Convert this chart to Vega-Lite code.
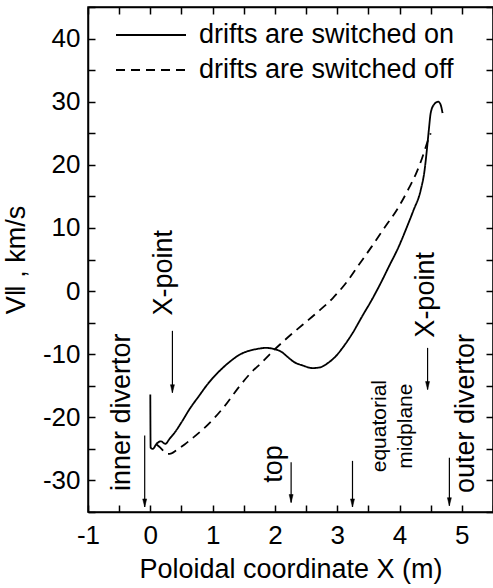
{
  "$schema": "https://vega.github.io/schema/vega-lite/v6.json",
  "width": 405,
  "height": 505,
  "autosize": {"type": "none"},
  "padding": {"left": 88, "top": 7, "right": 0, "bottom": 76},
  "background": "white",
  "config": {
    "font": "Liberation Sans",
    "view": {"stroke": "black", "strokeWidth": 1.5},
    "axis": {
      "domainColor": "black",
      "domainWidth": 1.5,
      "tickColor": "black",
      "tickWidth": 1.5,
      "tickSize": -7,
      "grid": false,
      "labelFont": "Liberation Sans",
      "labelFontSize": 26,
      "labelColor": "black",
      "titleFont": "Liberation Sans",
      "titleFontSize": 27,
      "titleFontWeight": "normal",
      "titleColor": "black"
    },
    "legend": {
      "orient": "none",
      "legendX": 27,
      "legendY": 10.5,
      "padding": 0,
      "symbolType": "stroke",
      "symbolSize": 4900,
      "symbolStrokeWidth": 1.8,
      "symbolStrokeColor": "black",
      "labelFont": "Liberation Sans",
      "labelFontSize": 27,
      "labelColor": "black",
      "labelOffset": 12,
      "labelLimit": 400,
      "clipHeight": 35,
      "rowPadding": 0
    }
  },
  "datasets": {
    "curves": [
      {"series": "drifts are switched on", "i": 0, "x": 0.0, "v": -16.4},
      {"series": "drifts are switched on", "i": 1, "x": 0.005, "v": -24.8},
      {"series": "drifts are switched on", "i": 2, "x": 0.04, "v": -25.0},
      {"series": "drifts are switched on", "i": 3, "x": 0.10, "v": -24.2},
      {"series": "drifts are switched on", "i": 4, "x": 0.17, "v": -23.8},
      {"series": "drifts are switched on", "i": 5, "x": 0.24, "v": -24.2},
      {"series": "drifts are switched on", "i": 6, "x": 0.31, "v": -23.4},
      {"series": "drifts are switched on", "i": 7, "x": 0.40, "v": -22.3},
      {"series": "drifts are switched on", "i": 8, "x": 0.50, "v": -20.8},
      {"series": "drifts are switched on", "i": 9, "x": 0.63, "v": -18.7},
      {"series": "drifts are switched on", "i": 10, "x": 0.79, "v": -16.5},
      {"series": "drifts are switched on", "i": 11, "x": 0.90, "v": -15.0},
      {"series": "drifts are switched on", "i": 12, "x": 1.00, "v": -13.8},
      {"series": "drifts are switched on", "i": 13, "x": 1.17, "v": -12.1},
      {"series": "drifts are switched on", "i": 14, "x": 1.30, "v": -11.0},
      {"series": "drifts are switched on", "i": 15, "x": 1.43, "v": -10.1},
      {"series": "drifts are switched on", "i": 16, "x": 1.57, "v": -9.5},
      {"series": "drifts are switched on", "i": 17, "x": 1.70, "v": -9.2},
      {"series": "drifts are switched on", "i": 18, "x": 1.86, "v": -9.0},
      {"series": "drifts are switched on", "i": 19, "x": 1.99, "v": -9.2},
      {"series": "drifts are switched on", "i": 20, "x": 2.10, "v": -9.6},
      {"series": "drifts are switched on", "i": 21, "x": 2.20, "v": -10.4},
      {"series": "drifts are switched on", "i": 22, "x": 2.30, "v": -11.2},
      {"series": "drifts are switched on", "i": 23, "x": 2.45, "v": -11.8},
      {"series": "drifts are switched on", "i": 24, "x": 2.60, "v": -12.2},
      {"series": "drifts are switched on", "i": 25, "x": 2.72, "v": -12.1},
      {"series": "drifts are switched on", "i": 26, "x": 2.85, "v": -11.4},
      {"series": "drifts are switched on", "i": 27, "x": 2.95, "v": -10.6},
      {"series": "drifts are switched on", "i": 28, "x": 3.10, "v": -8.8},
      {"series": "drifts are switched on", "i": 29, "x": 3.25, "v": -6.6},
      {"series": "drifts are switched on", "i": 30, "x": 3.40, "v": -4.0},
      {"series": "drifts are switched on", "i": 31, "x": 3.56, "v": -1.3},
      {"series": "drifts are switched on", "i": 32, "x": 3.70, "v": 1.3},
      {"series": "drifts are switched on", "i": 33, "x": 3.83, "v": 3.9},
      {"series": "drifts are switched on", "i": 34, "x": 3.99, "v": 7.1},
      {"series": "drifts are switched on", "i": 35, "x": 4.10, "v": 9.7},
      {"series": "drifts are switched on", "i": 36, "x": 4.22, "v": 12.7},
      {"series": "drifts are switched on", "i": 37, "x": 4.34, "v": 16.0},
      {"series": "drifts are switched on", "i": 38, "x": 4.40, "v": 19.0},
      {"series": "drifts are switched on", "i": 39, "x": 4.44, "v": 22.5},
      {"series": "drifts are switched on", "i": 40, "x": 4.47, "v": 25.5},
      {"series": "drifts are switched on", "i": 41, "x": 4.50, "v": 28.2},
      {"series": "drifts are switched on", "i": 42, "x": 4.55, "v": 29.5},
      {"series": "drifts are switched on", "i": 43, "x": 4.62, "v": 30.0},
      {"series": "drifts are switched on", "i": 44, "x": 4.66, "v": 29.5},
      {"series": "drifts are switched on", "i": 45, "x": 4.69, "v": 28.2},
      {"series": "drifts are switched off", "i": 0, "x": 0.10, "v": -24.3},
      {"series": "drifts are switched off", "i": 1, "x": 0.16, "v": -24.8},
      {"series": "drifts are switched off", "i": 2, "x": 0.22, "v": -25.4},
      {"series": "drifts are switched off", "i": 3, "x": 0.28, "v": -25.8},
      {"series": "drifts are switched off", "i": 4, "x": 0.34, "v": -25.7},
      {"series": "drifts are switched off", "i": 5, "x": 0.42, "v": -25.2},
      {"series": "drifts are switched off", "i": 6, "x": 0.55, "v": -24.3},
      {"series": "drifts are switched off", "i": 7, "x": 0.69, "v": -23.2},
      {"series": "drifts are switched off", "i": 8, "x": 0.90, "v": -21.4},
      {"series": "drifts are switched off", "i": 9, "x": 1.17, "v": -18.5},
      {"series": "drifts are switched off", "i": 10, "x": 1.43, "v": -15.1},
      {"series": "drifts are switched off", "i": 11, "x": 1.60, "v": -13.1},
      {"series": "drifts are switched off", "i": 12, "x": 1.80, "v": -11.2},
      {"series": "drifts are switched off", "i": 13, "x": 1.99, "v": -9.3},
      {"series": "drifts are switched off", "i": 14, "x": 2.20, "v": -7.4},
      {"series": "drifts are switched off", "i": 15, "x": 2.45, "v": -5.3},
      {"series": "drifts are switched off", "i": 16, "x": 2.70, "v": -3.2},
      {"series": "drifts are switched off", "i": 17, "x": 2.93, "v": -1.1},
      {"series": "drifts are switched off", "i": 18, "x": 3.15, "v": 1.4},
      {"series": "drifts are switched off", "i": 19, "x": 3.35, "v": 4.2},
      {"series": "drifts are switched off", "i": 20, "x": 3.55, "v": 7.0},
      {"series": "drifts are switched off", "i": 21, "x": 3.75, "v": 9.9},
      {"series": "drifts are switched off", "i": 22, "x": 3.99, "v": 13.4},
      {"series": "drifts are switched off", "i": 23, "x": 4.15, "v": 16.3},
      {"series": "drifts are switched off", "i": 24, "x": 4.26, "v": 18.5},
      {"series": "drifts are switched off", "i": 25, "x": 4.36, "v": 21.0},
      {"series": "drifts are switched off", "i": 26, "x": 4.45, "v": 23.7},
      {"series": "drifts are switched off", "i": 27, "x": 4.50, "v": 25.0}
    ],
    "arrows": [
      {"label": "inner divertor", "x": -0.09, "y1": -22.9, "y2": -34.2},
      {"label": "X-point (inner)", "x": 0.355, "y1": -6.3, "y2": -16.1},
      {"label": "top", "x": 2.26, "y1": -27.1, "y2": -33.5},
      {"label": "equatorial midplane", "x": 3.245, "y1": -26.9, "y2": -34.2},
      {"label": "outer divertor", "x": 4.80, "y1": -26.4, "y2": -34.0},
      {"label": "X-point (outer)", "x": 4.45, "y1": -9.0, "y2": -15.6}
    ],
    "labels": [
      {"text": "inner divertor", "x": -0.46, "y": -19.2},
      {"text": "X-point", "x": 0.22, "y": 2.9},
      {"text": "top", "x": 1.99, "y": -27.4},
      {"text": "outer divertor", "x": 5.06, "y": -19.4},
      {"text": "X-point", "x": 4.42, "y": -0.6}
    ],
    "smalllabels": [
      {"text": ["equatorial", "midplane"], "x": 3.68, "y": -21.4}
    ]
  },
  "resolve": {"axis": {"x": "independent", "y": "independent"}},
  "layer": [
    {
      "data": {"name": "curves"},
      "mark": {"type": "line", "strokeWidth": 1.8, "color": "black", "interpolate": "monotone"},
      "encoding": {
        "x": {
          "field": "x", "type": "quantitative",
          "scale": {"domain": [-1, 5.5], "nice": false, "zero": false},
          "axis": {
            "orient": "bottom",
            "title": "Poloidal coordinate X (m)",
            "values": [-1, -0.5, 0, 0.5, 1, 1.5, 2, 2.5, 3, 3.5, 4, 4.5, 5, 5.5],
            "labelExpr": "datum.value % 1 === 0 ? '' + datum.value : ''",
            "labelPadding": 17,
            "titlePadding": 8,
            "labelFlush": false
          }
        },
        "y": {
          "field": "v", "type": "quantitative",
          "scale": {"domain": [-35, 45], "nice": false, "zero": false},
          "axis": {
            "orient": "left",
            "title": "V‖ , km/s",
            "values": [-35, -30, -25, -20, -15, -10, -5, 0, 5, 10, 15, 20, 25, 30, 35, 40, 45],
            "labelExpr": "datum.value % 10 === 0 ? '' + datum.value : ''",
            "labelPadding": 15,
            "titlePadding": 12,
            "labelFlush": false
          }
        },
        "order": {"field": "i", "type": "quantitative"},
        "detail": {"field": "series"},
        "strokeDash": {
          "field": "series", "type": "nominal",
          "scale": {"domain": ["drifts are switched on", "drifts are switched off"], "range": [[1, 0], [9, 6]]},
          "legend": {"title": null}
        }
      }
    },
    {
      "data": {"name": "arrows"},
      "mark": {"type": "rule", "color": "black", "strokeWidth": 1.2},
      "encoding": {
        "x": {
          "field": "x", "type": "quantitative",
          "axis": {
            "orient": "top", "title": null, "labels": false,
            "values": [-1, -0.5, 0, 0.5, 1, 1.5, 2, 2.5, 3, 3.5, 4, 4.5, 5, 5.5]
          }
        },
        "y": {
          "field": "y1", "type": "quantitative",
          "axis": {
            "orient": "right", "title": null, "labels": false,
            "values": [-35, -30, -25, -20, -15, -10, -5, 0, 5, 10, 15, 20, 25, 30, 35, 40, 45]
          }
        },
        "y2": {"field": "y2"}
      }
    },
    {
      "data": {"name": "arrows"},
      "mark": {"type": "point", "shape": "M-1,-4L1,-4L0,0Z", "filled": true, "fill": "black", "stroke": "black", "strokeWidth": 0.5, "size": 16, "opacity": 1},
      "encoding": {
        "x": {"field": "x", "type": "quantitative", "axis": null},
        "y": {"field": "y2", "type": "quantitative", "axis": null}
      }
    },
    {
      "data": {"name": "labels"},
      "mark": {"type": "text", "angle": 270, "fontSize": 27, "font": "Liberation Sans", "color": "black", "align": "center", "baseline": "middle"},
      "encoding": {
        "x": {"field": "x", "type": "quantitative", "axis": null},
        "y": {"field": "y", "type": "quantitative", "axis": null},
        "text": {"field": "text"}
      }
    },
    {
      "data": {"name": "smalllabels"},
      "mark": {"type": "text", "angle": 270, "fontSize": 21, "font": "Liberation Sans", "color": "black", "align": "center", "baseline": "middle", "lineHeight": 26},
      "encoding": {
        "x": {"field": "x", "type": "quantitative", "axis": null},
        "y": {"field": "y", "type": "quantitative", "axis": null},
        "text": {"field": "text"}
      }
    }
  ]
}
